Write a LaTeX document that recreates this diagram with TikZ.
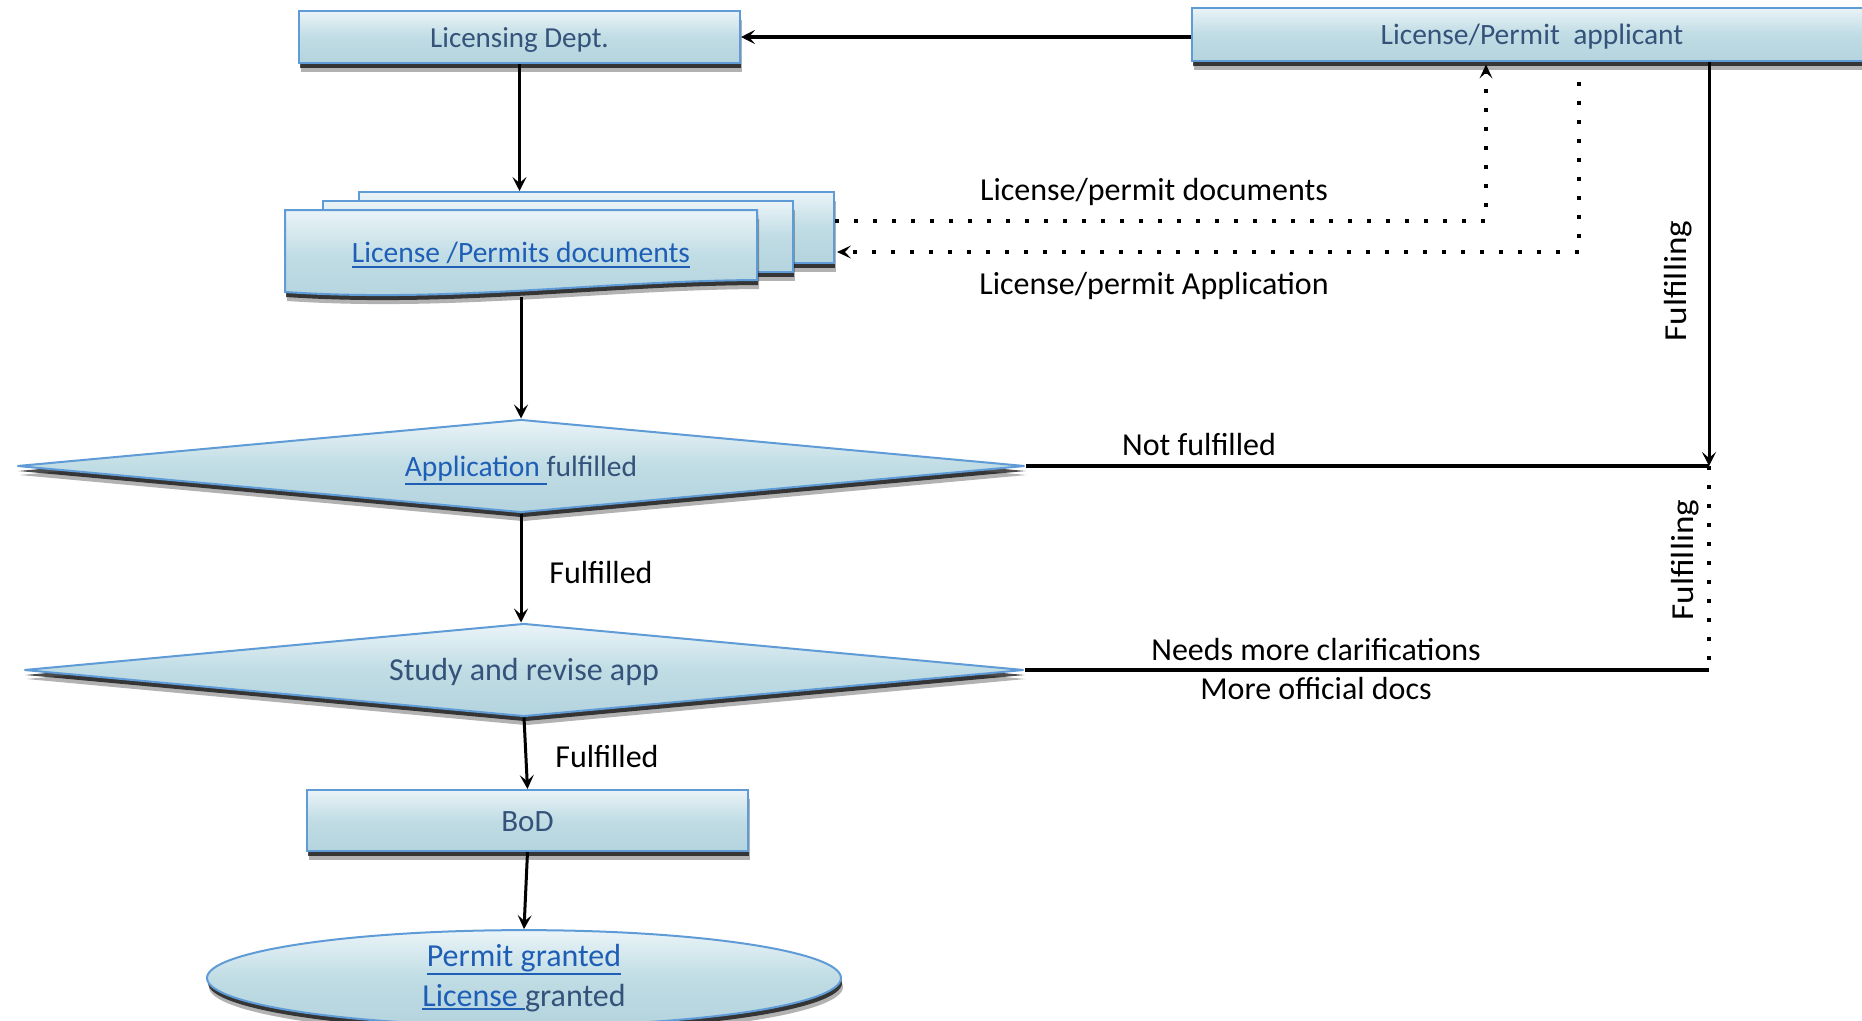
\documentclass[tikz,border=0pt]{standalone}
\usepackage{fontspec}
\setmainfont{Carlito}
\usetikzlibrary{shapes.geometric,shadows,arrows.meta,calc}
\definecolor{bord}{HTML}{5F9BD6}
\definecolor{txt}{HTML}{34527A}
\definecolor{lnk}{HTML}{1E5EB6}
\definecolor{ftop}{HTML}{EAF4F8}
\definecolor{fmid}{HTML}{C0DCE4}
\definecolor{fbot}{HTML}{B4D4DE}
\newcommand\lnkul[1]{{\color{lnk}\vtop{\hbox{#1}\kern1.5pt\hrule height 1.8pt}}}
\begin{document}
\begin{tikzpicture}[x=1pt,y=-1pt,
  shd/.style={top color=ftop,bottom color=fbot,middle color=fmid,draw=bord,line width=2pt},
  sh/.style={drop shadow={shadow xshift=2pt,shadow yshift=-9pt,opacity=.3,fill=black},
             drop shadow={shadow xshift=1pt,shadow yshift=-5pt,opacity=.7,fill=black}},
  box/.style={shd,sh,rectangle,inner sep=0pt,text=txt,text height=27pt,text depth=6pt},
  sheet/.style={shd,sh,rectangle,inner sep=0pt},
  dia/.style={shd,sh,diamond,aspect=10.8,inner sep=0pt,text=txt,text height=27pt,text depth=6pt},
  ell/.style={shd,sh,ellipse,inner sep=0pt,text=txt,align=center},
  lbl/.style={text=black,inner sep=0pt,font=\fontsize{32}{36}\selectfont},
  arr/.style={-{Stealth[length=14pt,width=14pt,inset=6pt]},line width=3pt},
  dotl/.style={line width=4pt,dash pattern=on 4pt off 15pt},
  dotarr/.style={dotl,-{Stealth[length=14pt,width=13pt,inset=6pt,line width=0pt]}},
  thickl/.style={line width=4pt}
]
\useasboundingbox (0,0) rectangle (1862,1020);

% top boxes
\node[box,minimum width=441pt,minimum height=52pt,font=\fontsize{29}{32}\selectfont] (dept) at (519.5,37) {Licensing Dept.};
\node[box,minimum width=680pt,minimum height=53pt,font=\fontsize{29.5}{32}\selectfont] (applicant) at (1532,34) {License/Permit\ \ applicant};

% document stack
\node[sheet,minimum width=475pt,minimum height=71pt] (docsC) at (596.5,227.5) {};
\node[sheet,minimum width=470pt,minimum height=71pt] (docsB) at (558,236.5) {};
\path[shd,sh] (285,210) -- (757,210) -- (757,280)
   .. controls (600,281) and (450,303) .. (285,292) -- cycle;
\node[text=lnk,inner sep=0pt,font=\fontsize{29.5}{32}\selectfont] (docs) at (521,255) {\lnkul{License /Permits documents}};
\coordinate (docsbot) at (521,297);

% decisions
\node[dia,minimum width=1008pt,minimum height=93pt,font=\fontsize{29.5}{32}\selectfont] (d1) at (521,466) {\lnkul{Application }fulfilled};
\node[dia,minimum width=1000pt,minimum height=93pt,font=\fontsize{32}{36}\selectfont] (d2) at (524,670) {Study and revise app};

% BoD and result
\node[box,minimum width=441pt,minimum height=61pt,font=\fontsize{31}{34}\selectfont] (bod) at (527.5,820.5) {BoD};
\node[ell,minimum width=634pt,minimum height=90pt,font=\fontsize{32}{38}\selectfont] (grant) at (524,978) {\lnkul{Permit granted}\\[2pt] \lnkul{License }granted};

% junctions
\coordinate (j1) at (1709,466);
\coordinate (j2) at (1709,670);

% connectors
\draw[arr,line width=4pt] (applicant.west |- dept.east) -- (dept.east);
\draw[arr] (dept.south) -- (dept.south |- docsC.north);
\draw[arr] (docsbot) -- (docsbot |- d1.north);
\draw[arr] (d1.south) -- (d1.south |- d2.north);
\draw[arr] (d2.south) -- (bod.north);
\draw[arr] (bod.south) -- (grant.north);

\draw[dotarr] ([yshift=6.5pt]docsC.east) -| ([xshift=-46pt,yshift=-3pt]applicant.south);
\draw[dotarr] ([xshift=47pt,yshift=-20pt]applicant.south) |- ([xshift=2pt,yshift=-24.5pt]docsC.east);

\draw[arr] (applicant.south -| j1) -- (j1);
\draw[thickl] (d1.east) -- (j1);
\draw[dotl] (j1) -- (j2);
\draw[thickl] (d2.east) -- (j2);

% labels
\node[lbl] (l1) at (1154,192) {License/permit documents};
\node[lbl] (l2) at (1154,286) {License/permit Application};
\node[lbl,rotate=90,xscale=1.1] (l3) at (1678,281) {Fulfilling};
\node[lbl] (l4) at (1199,445) {Not fulfilled};
\node[lbl] (l5) at (601,572) {Fulfilled};
\node[lbl,rotate=90,xscale=1.1] (l6) at (1685,560) {Fulfilling};
\node[lbl] (l7) at (1316,649) {Needs more clarifications};
\node[lbl] (l8) at (1316,688) {More official docs};
\node[lbl] (l9) at (607,756) {Fulfilled};
\end{tikzpicture}
\end{document}
